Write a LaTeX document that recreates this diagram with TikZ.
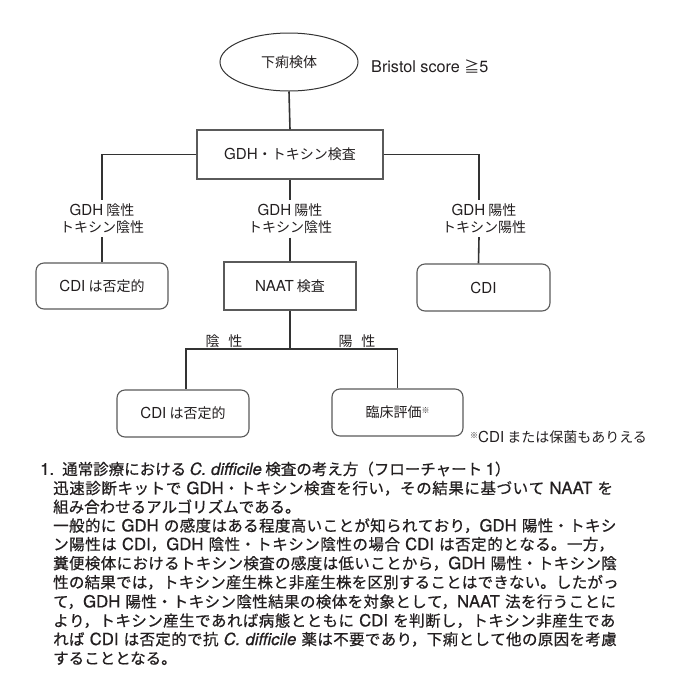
\documentclass[tikz,border=0pt]{standalone}
\usepackage{fontspec}
\setmainfont{Noto Sans CJK JP}
\newfontfamily\heros[Scale=1.08]{TeX Gyre Heros}
\newfontfamily\herosbold[Scale=1.08, FakeBold=0.6]{TeX Gyre Heros}
\newfontfamily\bodyjp[FakeBold=0.6]{Noto Sans CJK JP}
\newcommand\eng[1]{{\heros #1}}
\newcommand\cdif{{\heros\itshape C. difficile}}
\newcommand\fdia{\fontsize{14}{17}\selectfont}
\newcommand\fbody{\bodyjp\fontsize{15.5}{19}\selectfont\let\heros\herosbold}
\newcommand\kome{\raisebox{4pt}{\fontsize{8}{8}\selectfont ※}}
\newcommand\jl[1]{\parfillskip=0pt\tolerance=10000\hbadness=10000\relax #1\par}
\XeTeXlinebreaklocale "ja"
\XeTeXlinebreakskip=0pt plus 2pt
\usetikzlibrary{shapes.geometric}
\definecolor{ln}{HTML}{333333}
\definecolor{bd}{HTML}{5A5A5A}
\definecolor{tx}{HTML}{231F20}
\tikzset{
  conn/.style={draw=ln, line width=1.6pt},
  sqbox/.style={draw=bd, line width=1.1pt, rectangle, inner sep=0pt, font=\fdia, text=tx},
  rbox/.style={sqbox, rounded corners=8pt},
  lbl/.style={inner sep=0pt, minimum height=37pt, align=center, font=\fdia, text=tx},
  plain/.style={inner sep=0pt, font=\fdia, text=tx},
  ptxt/.style={anchor=west, inner sep=0pt, font=\fbody, text=tx},
  ptxtj/.style={ptxt, text width=569pt},
}
\begin{document}
\begin{tikzpicture}[x=1pt, y=-1pt]
\fill[white] (0,0) rectangle (688,697);
\useasboundingbox (0,0) rectangle (688,697);

% diagram nodes
\node[ellipse, draw=ln, line width=1pt, minimum width=138pt, minimum height=58pt, inner sep=0pt, font=\fdia, text=tx] (spec) at (289,62) {下痢検体};
\node[plain, anchor=west, font=\fontsize{15}{18}\selectfont] (bristol) at (371,66) {\eng{Bristol score }≧\eng{5}};
\node[sqbox, minimum width=186pt, minimum height=49pt] (gdh) at (290,154.5) {\eng{GDH}・トキシン検査};

\node[lbl] (l1) at (102,218.5) {\eng{GDH} 陰性\\トキシン陰性};
\node[lbl] (l2) at (290,219) {\eng{GDH} 陽性\\トキシン陰性};
\node[lbl] (l3) at (484,218.5) {\eng{GDH} 陽性\\トキシン陽性};

\node[rbox, minimum width=132pt, minimum height=46pt] (cdi1) at (102,286) {\eng{CDI} は否定的};
\node[sqbox, minimum width=132pt, minimum height=48pt] (naat) at (290,286) {\eng{NAAT} 検査};
\node[rbox, minimum width=133pt, minimum height=47pt] (cdi2) at (483.5,287.5) {\eng{CDI}};

\node[plain] (nl) at (224,341) {陰\hspace{9pt}性};
\node[plain] (pl) at (357,341) {陽\hspace{9pt}性};
\coordinate (j) at (290,349);

\node[rbox, minimum width=132pt, minimum height=47pt] (neg) at (183,413.5) {\eng{CDI} は否定的};
\node[rbox, minimum width=131pt, minimum height=47pt] (pos) at (397.5,412.5) {臨床評価\kome};
\node[plain, anchor=west] (note) at (470,437) {\kome\eng{CDI} または保菌もありえる};

% connectors
\draw[conn] (spec.south) -- (gdh.north);
\draw[conn] (gdh.west) -| (l1.north);
\draw[conn] (l1.south) -- (cdi1.north);
\draw[conn] (gdh.south) -- (l2.north);
\draw[conn] (l2.south) -- (naat.north);
\draw[conn] (gdh.east) -| ([xshift=-5pt]l3.north);
\draw[conn] ([xshift=-5pt]l3.south) -- ([xshift=-5pt]cdi2.north);
\draw[conn] (naat.south) -- (j);
\draw[conn] (j) -| ([xshift=3pt]neg.north);
\draw[conn] (j) -| (pos.north);

% paragraph
\node[ptxt] (p0) at (40,469) {\eng{1.}};
\node[ptxt] (p1) at (62,469) {通常診療における \cdif\ 検査の考え方（フローチャート \eng{1}）};
\node[ptxtj] (p2) at (53,488.3) {\jl{迅速診断キットで \eng{GDH}・トキシン検査を行い，その結果に基づいて \eng{NAAT} を}};
\node[ptxt] (p3) at (53,506.7) {組み合わせるアルゴリズムである。};
\node[ptxtj] (p4) at (53,525.7) {\jl{一般的に \eng{GDH} の感度はある程度高いことが知られており，\eng{GDH} 陽性・トキシ}};
\node[ptxtj] (p5) at (53,544.3) {\jl{ン陽性は \eng{CDI}，\eng{GDH} 陰性・トキシン陰性の場合 \eng{CDI} は否定的となる。一方，}};
\node[ptxtj] (p6) at (53,563.3) {\jl{糞便検体におけるトキシン検査の感度は低いことから，\eng{GDH} 陽性・トキシン陰}};
\node[ptxtj] (p7) at (53,582.3) {\jl{性の結果では，トキシン産生株と非産生株を区別することはできない。したがっ}};
\node[ptxtj] (p8) at (53,601.7) {\jl{て，\eng{GDH} 陽性・トキシン陰性結果の検体を対象として，\eng{NAAT} 法を行うことに}};
\node[ptxtj] (p9) at (53,620.7) {\jl{より，トキシン産生であれば病態とともに \eng{CDI} を判断し，トキシン非産生であ}};
\node[ptxtj] (p10) at (53,639.3) {\jl{れば \eng{CDI} は否定的で抗 \cdif\ 薬は不要であり，下痢として他の原因を考慮}};
\node[ptxt] (p11) at (53,658.3) {することとなる。};
\end{tikzpicture}
\end{document}
